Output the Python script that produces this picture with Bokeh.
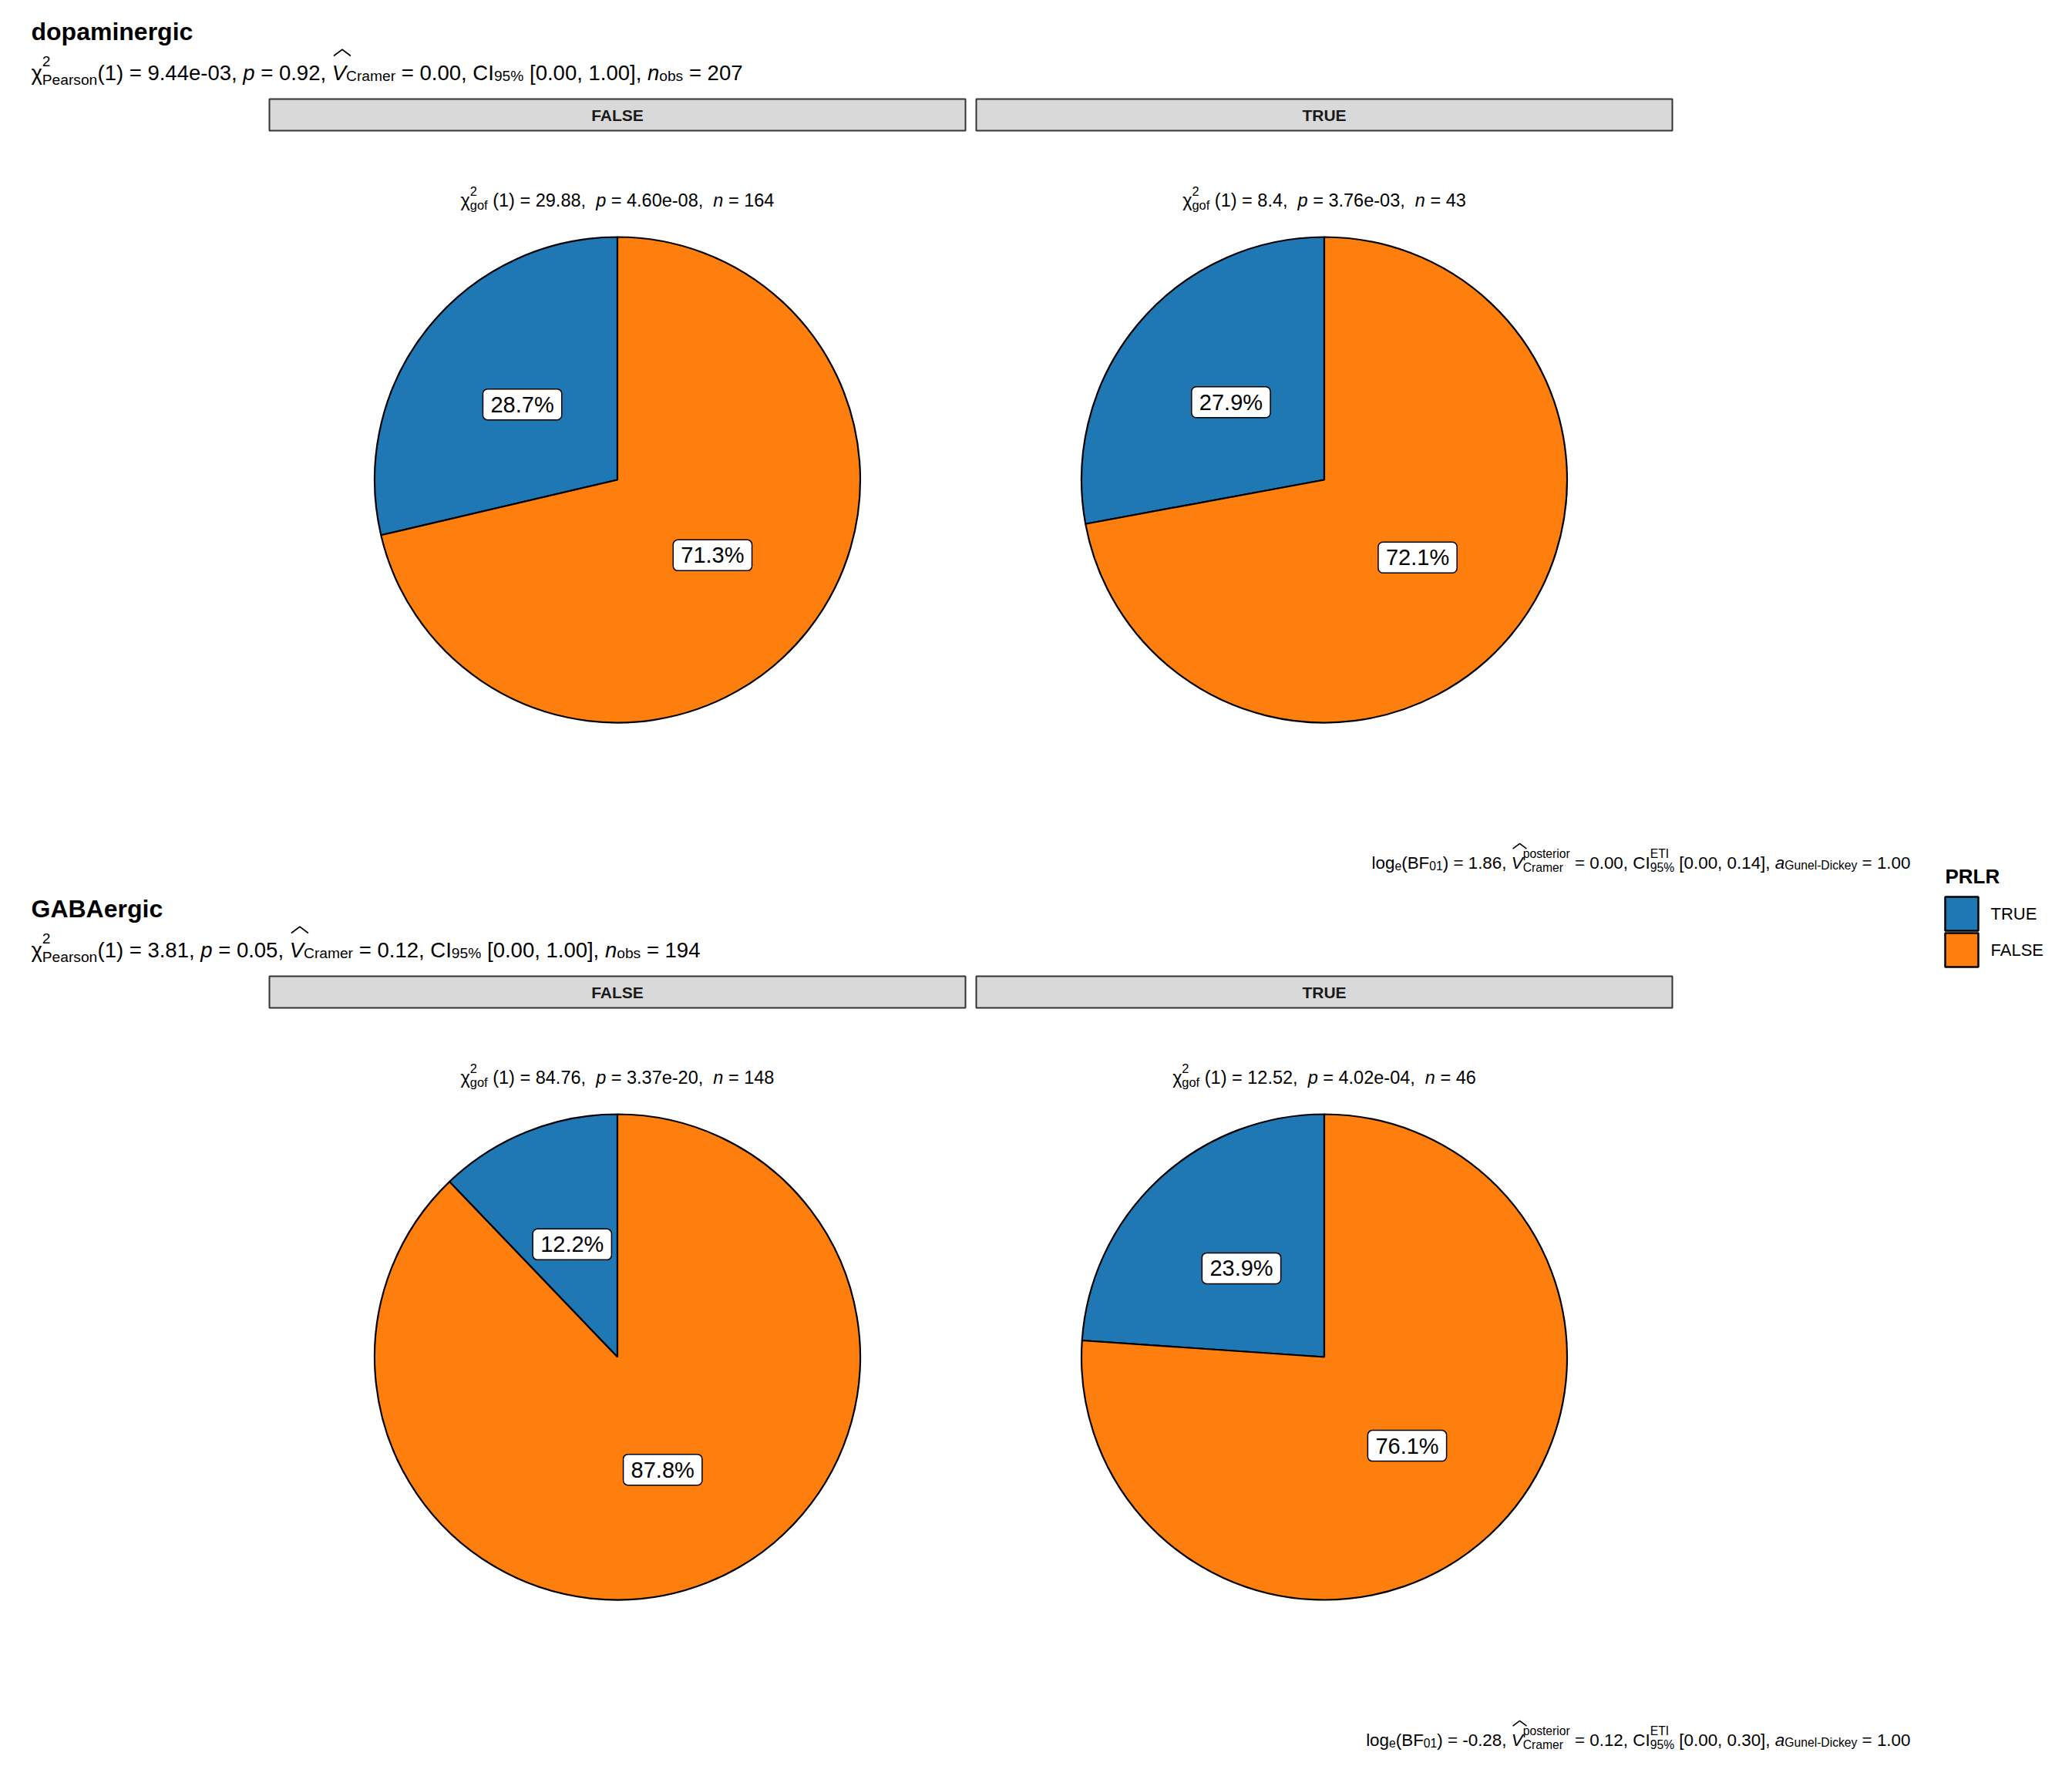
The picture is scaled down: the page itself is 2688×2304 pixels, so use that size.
import math
import re
from bokeh.plotting import figure
from bokeh.models import Range1d, ColumnDataSource
from bokeh.core.properties import value
from bokeh.embed import file_html
from bokeh.resources import INLINE

# ---------------- data ----------------
cell_types = ["dopaminergic", "GABAergic"]
facet_levels = ["FALSE", "TRUE"]
prlr_levels = ["TRUE", "FALSE"]
prlr_colors = ["#1F77B4", "#FF7F0E"]

dopa_true = [47, 12]
dopa_false = [117, 31]
gaba_true = [18, 11]
gaba_false = [130, 35]

pearson_chi = ["9.44e-03", "3.81"]
pearson_p = ["0.92", "0.05"]
cramer_v = ["0.00", "0.12"]
cramer_ci = ["[0.00, 1.00]", "[0.00, 1.00]"]
n_obs = ["207", "194"]

dopa_gof_chi = ["29.88", "8.4"]
dopa_gof_p = ["4.60e-08", "3.76e-03"]
gaba_gof_chi = ["84.76", "12.52"]
gaba_gof_p = ["3.37e-20", "4.02e-04"]

bf_log = ["1.86", "-0.28"]
v_posterior = ["0.00", "0.12"]
ci_eti = ["[0.00, 0.14]", "[0.00, 0.30]"]
a_gunel = ["1.00", "1.00"]

# ---------------- layout ----------------
FW, FH = 2672, 2288
FONT = "Liberation Sans"


def X(px):
    return px


def Y(py):
    return FH - py


p = figure(width=FW, height=FH, x_range=Range1d(0, FW), y_range=Range1d(0, FH),
           output_backend="svg", toolbar_location=None,
           x_axis_type=None, y_axis_type=None, min_border=0)
p.outline_line_color = None
p.grid.visible = False
p.background_fill_color = "white"
p.border_fill_color = "white"

W = {' ': .278, '!': .278, '%': .889, '(': .333, ')': .333, ',': .278, '-': .333,
     '.': .278, '=': .584, '[': .278, ']': .278, 'χ': .52, '^': .469}
for c in "0123456789":
    W[c] = .556
upper = dict(A=.667, B=.667, C=.722, D=.722, E=.667, F=.611, G=.778, H=.722, I=.278,
             J=.5, K=.667, L=.556, M=.833, N=.722, O=.778, P=.667, Q=.778, R=.722,
             S=.667, T=.611, U=.722, V=.667, W=.944, X=.667, Y=.667, Z=.611)
lower = dict(a=.556, b=.556, c=.5, d=.556, e=.556, f=.278, g=.556, h=.556, i=.222,
             j=.222, k=.5, l=.222, m=.833, n=.556, o=.556, p=.556, q=.556, r=.333,
             s=.5, t=.278, u=.556, v=.5, w=.722, x=.5, y=.5, z=.5)
W.update(upper)
W.update(lower)


def tw(s, size):
    return sum(W.get(ch, .556) for ch in s) * size


texts = []   # (x, py, text, size, style)
hats = []    # list of xs, pys


def put(cx, py, s, size, style):
    for m in re.finditer(r'\S+(?: \S+)*', s):
        xoff = tw(s[:m.start()], size)
        texts.append((cx + xoff, py, m.group(), size, style))


def rich(segs, x, py, f, align="left", ss=0.7, sub_drop=0.12,
         ss_raise=0.55, ss_drop=0.25, hat_lift=0.0):
    def seg_w(seg):
        k = seg[0]
        if k in ("n", "i", "hat"):
            return tw(seg[1], f)
        if k in ("sup", "sub"):
            return tw(seg[1], f * ss)
        if k == "supsub":
            return max(tw(seg[1], f * ss), tw(seg[2], f * ss))
        return 0
    total = sum(seg_w(s) for s in segs)
    if align == "right":
        x = x - total
    elif align == "center":
        x = x - total / 2
    cx = x
    for seg in segs:
        k = seg[0]
        if k == "n":
            put(cx, py, seg[1], f, "normal")
        elif k == "i":
            put(cx, py, seg[1], f, "italic")
        elif k == "sub":
            put(cx, py + sub_drop * f, seg[1], f * ss, "normal")
        elif k == "supsub":
            put(cx, py - ss_raise * f, seg[1], f * ss, "normal")
            put(cx, py + ss_drop * f, seg[2], f * ss, "normal")
        elif k == "hat":
            put(cx, py, seg[1], f, "italic")
            wv = tw(seg[1], f)
            x0 = cx + 0.08 * f
            hats.append(([x0, x0 + wv * 0.6, x0 + wv * 1.2],
                         [py - (0.80 + hat_lift) * f, py - (1.10 + hat_lift) * f,
                          py - (0.80 + hat_lift) * f]))
        cx += seg_w(seg)
    return total


PANEL_DY = 1138
STRIP_X = [(349, 1252), (1266, 2169)]
R = 315
counts = [(dopa_true, dopa_false, dopa_gof_chi, dopa_gof_p),
          (gaba_true, gaba_false, gaba_gof_chi, gaba_gof_p)]

wedge = dict(x=[], y=[], start=[], end=[], color=[])
lab = dict(x=[], y=[], text=[])
strips = dict(left=[], right=[], top=[], bottom=[])
strip_lab = dict(x=[], y=[], text=[])
titles = dict(x=[], y=[], text=[])

for gi, ct in enumerate(cell_types):
    oy = gi * PANEL_DY
    titles["x"].append(X(40))
    titles["y"].append(Y(40 + oy))
    titles["text"].append(ct)
    rich([("n", "χ"), ("supsub", "2", "Pearson"),
          ("n", "(1) = %s, " % pearson_chi[gi]), ("i", "p"),
          ("n", " = %s, " % pearson_p[gi]), ("hat", "V"), ("sub", "Cramer"),
          ("n", " = %s, CI" % cramer_v[gi]), ("sub", "95%"),
          ("n", " %s, " % cramer_ci[gi]), ("i", "n"), ("sub", "obs"),
          ("n", " = %s" % n_obs[gi])],
         40, 94 + oy, 27.5, ss_raise=0.55, ss_drop=0.32, sub_drop=0.14)
    rich([("n", "log"), ("sub", "e"), ("n", "(BF"), ("sub", "01"),
          ("n", ") = %s, " % bf_log[gi]), ("hat", "V"),
          ("supsub", "posterior", "Cramer"),
          ("n", " = %s, CI" % v_posterior[gi]), ("supsub", "ETI", "95%"),
          ("n", " %s, " % ci_eti[gi]), ("i", "a"), ("sub", "Gunel-Dickey"),
          ("n", " = %s" % a_gunel[gi])],
         2478, 1119 + oy, 22.4, align="right", ss_raise=0.52, ss_drop=0.26,
         sub_drop=0.14, hat_lift=0.02)
    tr, fa, gchi, gp = counts[gi]
    for fi, lvl in enumerate(facet_levels):
        x0, x1 = STRIP_X[fi]
        cxp = (x0 + x1) / 2
        strips["left"].append(X(x0))
        strips["right"].append(X(x1))
        strips["top"].append(Y(128 + oy))
        strips["bottom"].append(Y(169 + oy))
        strip_lab["x"].append(X(cxp))
        strip_lab["y"].append(Y(149 + oy))
        strip_lab["text"].append(lvl)
        n = tr[fi] + fa[fi]
        rich([("n", "χ"), ("supsub", "2", "gof"), ("n", " (1) = %s,  " % gchi[fi]),
              ("i", "p"), ("n", " = %s,  " % gp[fi]), ("i", "n"),
              ("n", " = %d" % n)],
             cxp, 259 + oy, 23.5, align="center", ss_raise=0.5, ss_drop=0.28)
        cyp = 622 + oy
        frac = tr[fi] / n
        a0 = math.pi / 2
        a1 = a0 + 2 * math.pi * frac
        a2 = a0 + 2 * math.pi
        for (s, e, col, pc) in [(a0, a1, prlr_colors[0], tr[fi]), (a1, a2, prlr_colors[1], fa[fi])]:
            wedge["x"].append(X(cxp))
            wedge["y"].append(Y(cyp))
            wedge["start"].append(s)
            wedge["end"].append(e)
            wedge["color"].append(col)
            mid = (s + e) / 2
            lab["x"].append(X(cxp) + 0.5 * R * math.cos(mid))
            lab["y"].append(Y(cyp) + 0.5 * R * math.sin(mid))
            lab["text"].append("%.1f%%" % (100.0 * pc / n))

# strips
p.quad(source=ColumnDataSource(strips), left="left", right="right", top="top",
       bottom="bottom", fill_color="#D9D9D9", line_color="#333333", line_width=2)
p.text(source=ColumnDataSource(strip_lab), x="x", y="y", text="text",
       text_font=value(FONT), text_font_size="21px", text_font_style="bold",
       text_align="center", text_baseline="middle", text_color="#1A1A1A")

# pies
p.wedge(source=ColumnDataSource(wedge), x="x", y="y", radius=R,
        start_angle="start", end_angle="end", fill_color="color",
        line_color="black", line_width=2.2)
p.text(source=ColumnDataSource(lab), x="x", y="y", text="text",
       text_font=value(FONT), text_font_size="29px", text_align="center",
       text_baseline="middle", text_color="black",
       background_fill_color="white", border_line_color="black",
       border_line_width=1.5, padding=dict(left=10, right=10, top=4, bottom=4),
       border_radius=6)

# titles
p.text(source=ColumnDataSource(titles), x="x", y="y", text="text",
       text_font=value(FONT), text_font_size="32px", text_font_style="bold",
       text_align="left", text_baseline="alphabetic", text_color="black")

# rich texts grouped by size/style
groups = {}
for (x, py, t, s, st) in texts:
    key = (round(s, 2), st)
    g = groups.setdefault(key, dict(x=[], y=[], text=[]))
    g["x"].append(X(x))
    g["y"].append(Y(py))
    g["text"].append(t)
for (s, st), g in groups.items():
    p.text(source=ColumnDataSource(g), x="x", y="y", text="text",
           text_font=value(FONT), text_font_size="%.1fpx" % s, text_font_style=st,
           text_align="left", text_baseline="alphabetic", text_color="black")

p.multi_line(xs=[[X(v) for v in h[0]] for h in hats],
             ys=[[Y(v) for v in h[1]] for h in hats],
             line_color="black", line_width=1.6)

# legend
p.text(x=[X(2523)], y=[Y(1136)], text=["PRLR"], text_font=value(FONT),
       text_font_size="26px", text_font_style="bold", text_baseline="alphabetic",
       text_color="black")
leg = dict(left=[], right=[], top=[], bottom=[], color=[], lx=[], ly=[], text=[])
for k, lvl in enumerate(prlr_levels):
    t0 = 1163 + k * 47
    leg["left"].append(X(2523))
    leg["right"].append(X(2566))
    leg["top"].append(Y(t0))
    leg["bottom"].append(Y(t0 + 44))
    leg["color"].append(prlr_colors[k])
    leg["lx"].append(X(2582))
    leg["ly"].append(Y(t0 + 22))
    leg["text"].append(lvl)
ls = ColumnDataSource(leg)
p.quad(source=ls, left="left", right="right", top="top", bottom="bottom",
       fill_color="color", line_color="black", line_width=2.5)
p.text(source=ls, x="lx", y="ly", text="text", text_font=value(FONT),
       text_font_size="22px", text_baseline="middle", text_color="black")

open("out.html", "w").write(file_html(p, INLINE))
